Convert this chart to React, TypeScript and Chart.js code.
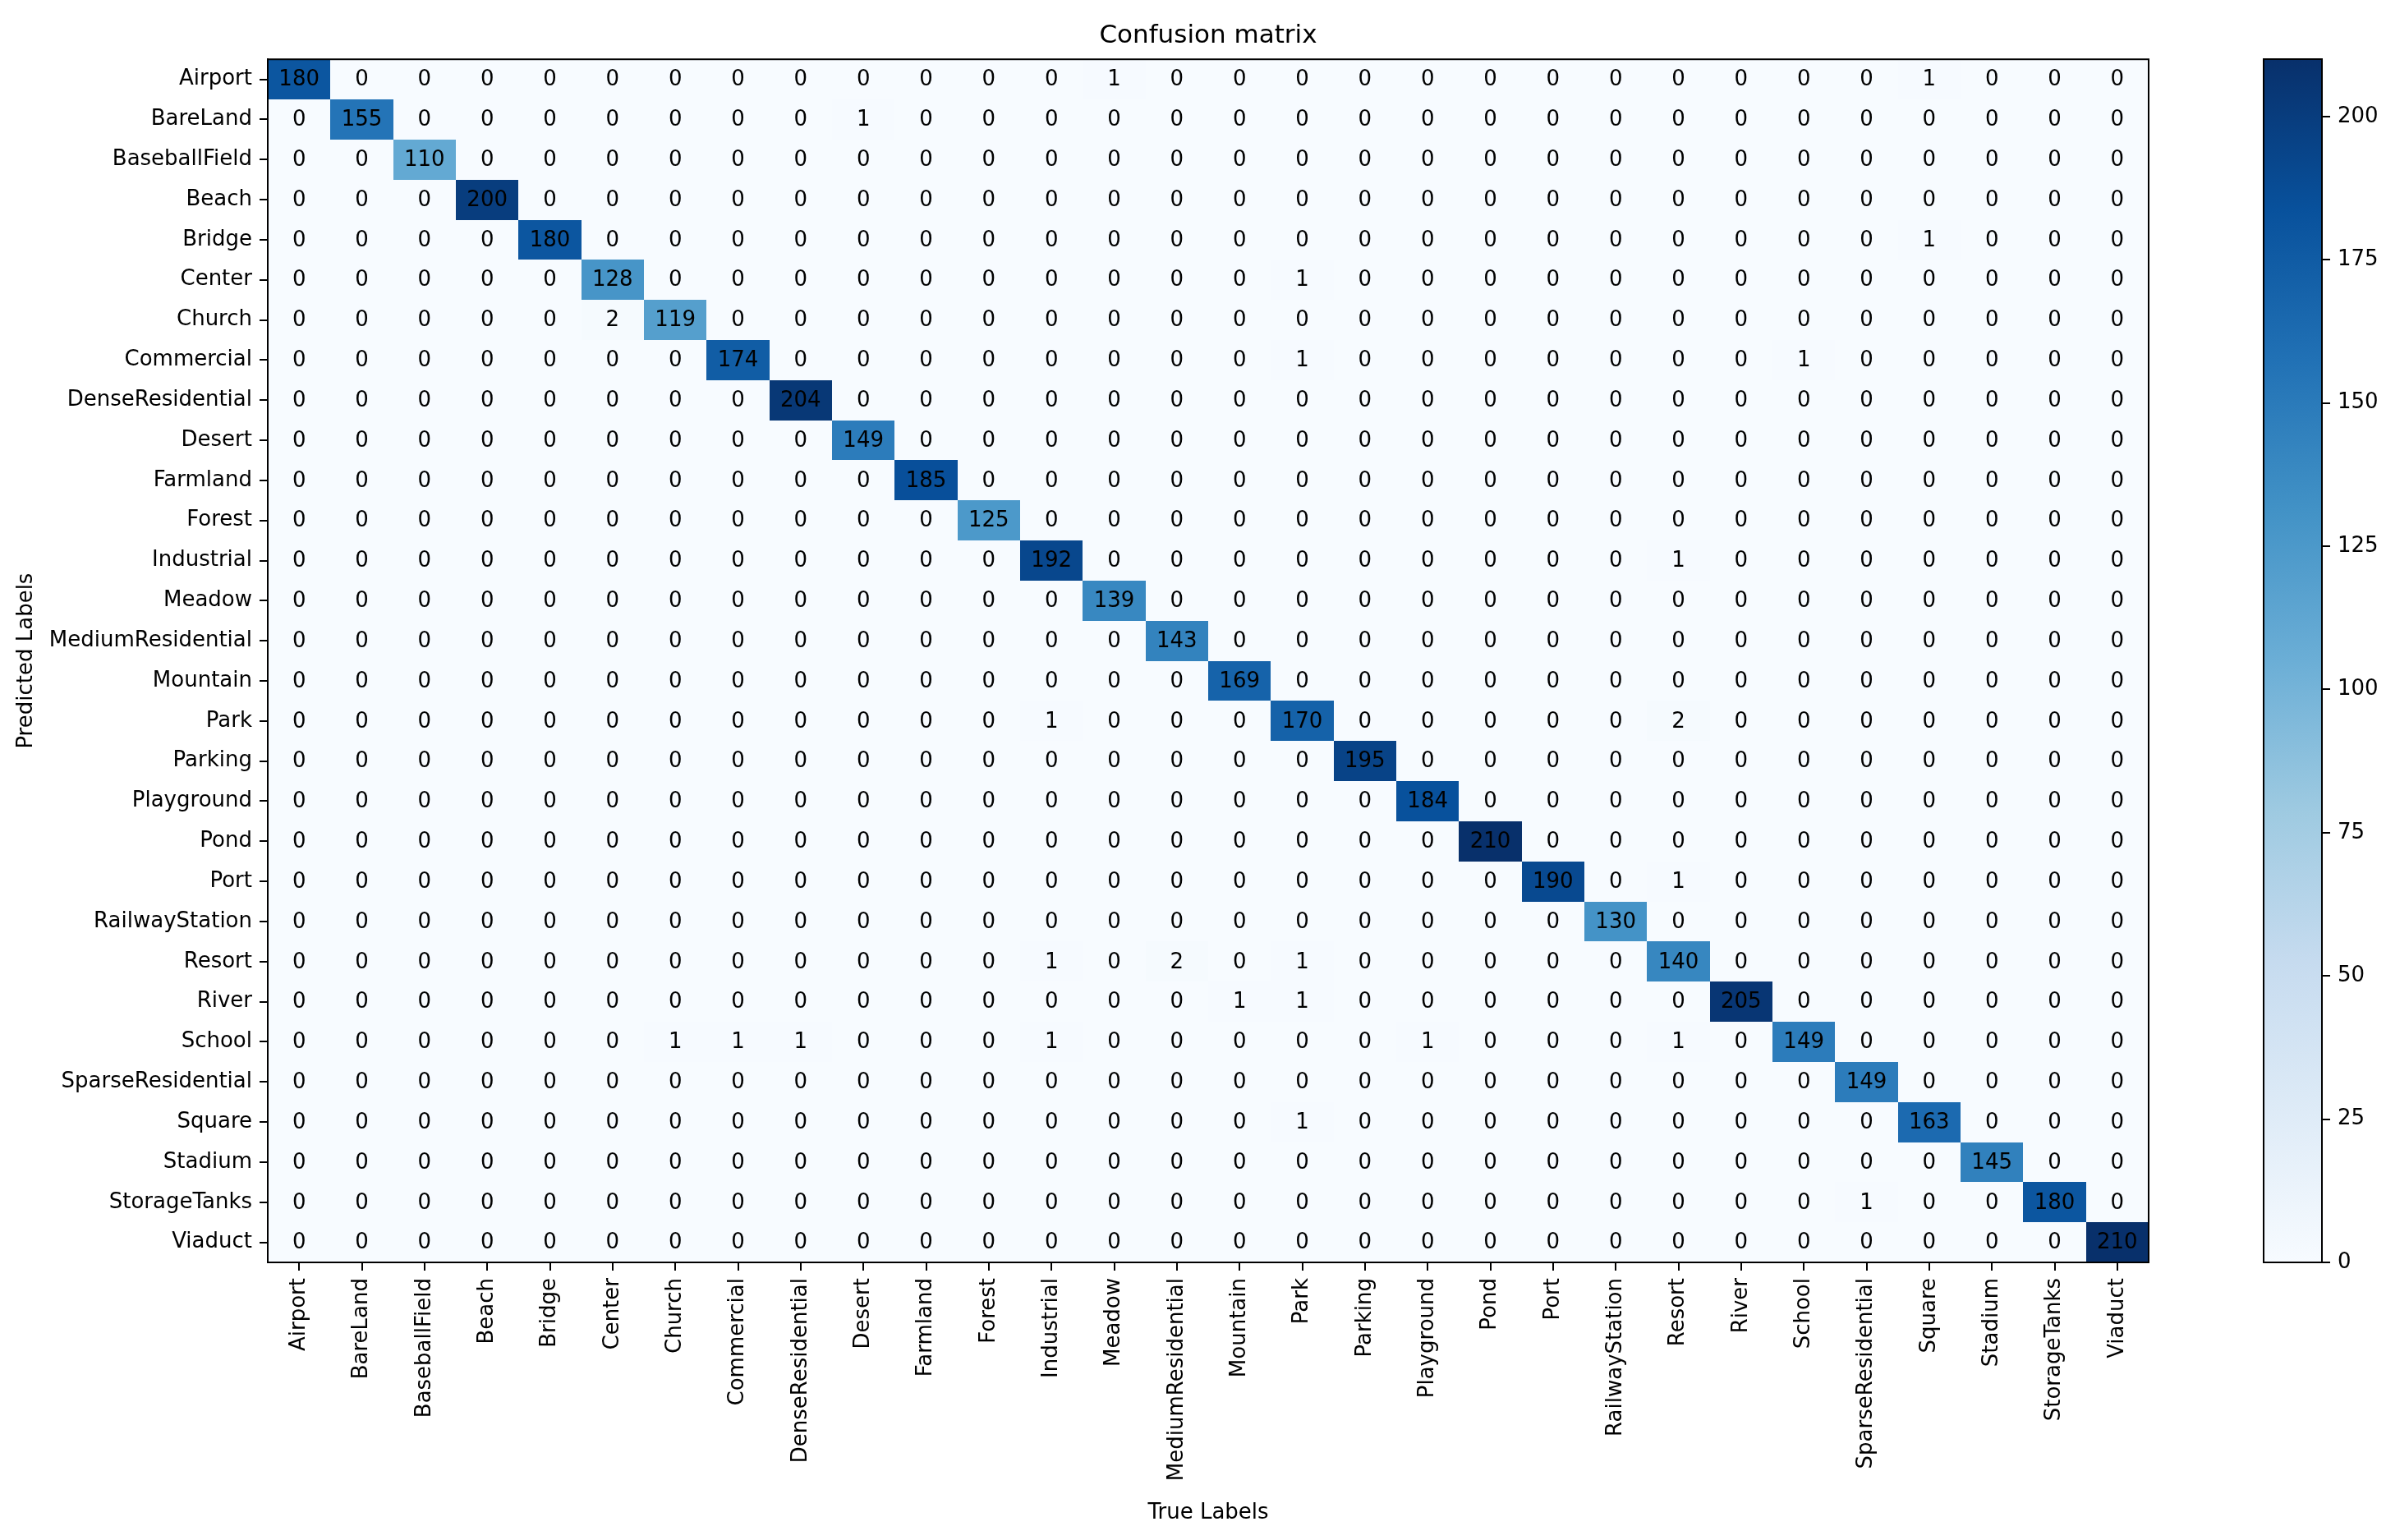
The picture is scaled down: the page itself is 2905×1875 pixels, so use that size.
import React, { useEffect, useRef } from "react";
import { Chart, registerables } from "chart.js";

Chart.register(...registerables);

// ---------- data ----------
const LABELS: string[] = [
  "Airport", "BareLand", "BaseballField", "Beach", "Bridge", "Center", "Church", "Commercial",
  "DenseResidential", "Desert", "Farmland", "Forest", "Industrial", "Meadow", "MediumResidential",
  "Mountain", "Park", "Parking", "Playground", "Pond", "Port", "RailwayStation", "Resort", "River",
  "School", "SparseResidential", "Square", "Stadium", "StorageTanks", "Viaduct",
];

// rows = predicted label, columns = true label
const MATRIX: number[][] = [
  [180,0,0,0,0, 0,0,0,0,0, 0,0,0,1,0, 0,0,0,0,0, 0,0,0,0,0, 0,1,0,0,0],
  [0,155,0,0,0, 0,0,0,0,1, 0,0,0,0,0, 0,0,0,0,0, 0,0,0,0,0, 0,0,0,0,0],
  [0,0,110,0,0, 0,0,0,0,0, 0,0,0,0,0, 0,0,0,0,0, 0,0,0,0,0, 0,0,0,0,0],
  [0,0,0,200,0, 0,0,0,0,0, 0,0,0,0,0, 0,0,0,0,0, 0,0,0,0,0, 0,0,0,0,0],
  [0,0,0,0,180, 0,0,0,0,0, 0,0,0,0,0, 0,0,0,0,0, 0,0,0,0,0, 0,1,0,0,0],
  [0,0,0,0,0, 128,0,0,0,0, 0,0,0,0,0, 0,1,0,0,0, 0,0,0,0,0, 0,0,0,0,0],
  [0,0,0,0,0, 2,119,0,0,0, 0,0,0,0,0, 0,0,0,0,0, 0,0,0,0,0, 0,0,0,0,0],
  [0,0,0,0,0, 0,0,174,0,0, 0,0,0,0,0, 0,1,0,0,0, 0,0,0,0,1, 0,0,0,0,0],
  [0,0,0,0,0, 0,0,0,204,0, 0,0,0,0,0, 0,0,0,0,0, 0,0,0,0,0, 0,0,0,0,0],
  [0,0,0,0,0, 0,0,0,0,149, 0,0,0,0,0, 0,0,0,0,0, 0,0,0,0,0, 0,0,0,0,0],
  [0,0,0,0,0, 0,0,0,0,0, 185,0,0,0,0, 0,0,0,0,0, 0,0,0,0,0, 0,0,0,0,0],
  [0,0,0,0,0, 0,0,0,0,0, 0,125,0,0,0, 0,0,0,0,0, 0,0,0,0,0, 0,0,0,0,0],
  [0,0,0,0,0, 0,0,0,0,0, 0,0,192,0,0, 0,0,0,0,0, 0,0,1,0,0, 0,0,0,0,0],
  [0,0,0,0,0, 0,0,0,0,0, 0,0,0,139,0, 0,0,0,0,0, 0,0,0,0,0, 0,0,0,0,0],
  [0,0,0,0,0, 0,0,0,0,0, 0,0,0,0,143, 0,0,0,0,0, 0,0,0,0,0, 0,0,0,0,0],
  [0,0,0,0,0, 0,0,0,0,0, 0,0,0,0,0, 169,0,0,0,0, 0,0,0,0,0, 0,0,0,0,0],
  [0,0,0,0,0, 0,0,0,0,0, 0,0,1,0,0, 0,170,0,0,0, 0,0,2,0,0, 0,0,0,0,0],
  [0,0,0,0,0, 0,0,0,0,0, 0,0,0,0,0, 0,0,195,0,0, 0,0,0,0,0, 0,0,0,0,0],
  [0,0,0,0,0, 0,0,0,0,0, 0,0,0,0,0, 0,0,0,184,0, 0,0,0,0,0, 0,0,0,0,0],
  [0,0,0,0,0, 0,0,0,0,0, 0,0,0,0,0, 0,0,0,0,210, 0,0,0,0,0, 0,0,0,0,0],
  [0,0,0,0,0, 0,0,0,0,0, 0,0,0,0,0, 0,0,0,0,0, 190,0,1,0,0, 0,0,0,0,0],
  [0,0,0,0,0, 0,0,0,0,0, 0,0,0,0,0, 0,0,0,0,0, 0,130,0,0,0, 0,0,0,0,0],
  [0,0,0,0,0, 0,0,0,0,0, 0,0,1,0,2, 0,1,0,0,0, 0,0,140,0,0, 0,0,0,0,0],
  [0,0,0,0,0, 0,0,0,0,0, 0,0,0,0,0, 1,1,0,0,0, 0,0,0,205,0, 0,0,0,0,0],
  [0,0,0,0,0, 0,1,1,1,0, 0,0,1,0,0, 0,0,0,1,0, 0,0,1,0,149, 0,0,0,0,0],
  [0,0,0,0,0, 0,0,0,0,0, 0,0,0,0,0, 0,0,0,0,0, 0,0,0,0,0, 149,0,0,0,0],
  [0,0,0,0,0, 0,0,0,0,0, 0,0,0,0,0, 0,1,0,0,0, 0,0,0,0,0, 0,163,0,0,0],
  [0,0,0,0,0, 0,0,0,0,0, 0,0,0,0,0, 0,0,0,0,0, 0,0,0,0,0, 0,0,145,0,0],
  [0,0,0,0,0, 0,0,0,0,0, 0,0,0,0,0, 0,0,0,0,0, 0,0,0,0,0, 1,0,0,180,0],
  [0,0,0,0,0, 0,0,0,0,0, 0,0,0,0,0, 0,0,0,0,0, 0,0,0,0,0, 0,0,0,0,210],
];

const COLORBAR_TICKS: number[] = [0, 25, 50, 75, 100, 125, 150, 175, 200];
const V_MAX = 210;

const TITLE = "Confusion matrix";
const X_TITLE = "True Labels";
const Y_TITLE = "Predicted Labels";

// matplotlib "Blues" colormap control colours
const BLUES: string[] = [
  "#f7fbff", "#deebf7", "#c6dbef", "#9ecae1", "#6baed6",
  "#4292c6", "#2171b5", "#08519c", "#08306b",
];

// ---------- helpers ----------
const FONT = "'DejaVu Sans', sans-serif";

function hexToRgb(h: string): number[] {
  const n = parseInt(h.slice(1), 16);
  return [(n >> 16) & 255, (n >> 8) & 255, n & 255];
}

function blues(t: number): string {
  const c = Math.max(0, Math.min(1, t));
  const s = c * (BLUES.length - 1);
  const i = Math.min(Math.floor(s), BLUES.length - 2);
  const f = s - i;
  const a = hexToRgb(BLUES[i]);
  const b = hexToRgb(BLUES[i + 1]);
  const r = a.map((v, k) => Math.round(v + (b[k] - v) * f));
  return `rgb(${r[0]},${r[1]},${r[2]})`;
}

const heatmapPlugin = {
  id: "heatmapCells",
  beforeDatasetsDraw(chart: any) {
    const { ctx, chartArea, scales } = chart;
    const xs = scales.x;
    const ys = scales.y;
    const pts = chart.data.datasets[0].data as { x: number; y: number; v: number }[];
    ctx.save();
    for (const p of pts) {
      const x0 = Math.round(xs.getPixelForValue(p.x - 0.5));
      const x1 = Math.round(xs.getPixelForValue(p.x + 0.5));
      const y0 = Math.round(ys.getPixelForValue(p.y - 0.5));
      const y1 = Math.round(ys.getPixelForValue(p.y + 0.5));
      ctx.fillStyle = blues(p.v / V_MAX);
      ctx.fillRect(Math.min(x0, x1), Math.min(y0, y1), Math.abs(x1 - x0), Math.abs(y1 - y0));
    }
    ctx.fillStyle = "#000";
    ctx.font = `26px ${FONT}`;
    ctx.textAlign = "center";
    ctx.textBaseline = "middle";
    for (const p of pts) {
      ctx.fillText(String(p.v), xs.getPixelForValue(p.x), ys.getPixelForValue(p.y) + 1);
    }
    ctx.strokeStyle = "#000";
    ctx.lineWidth = 2;
    ctx.strokeRect(
      chartArea.left,
      chartArea.top,
      chartArea.right - chartArea.left,
      chartArea.bottom - chartArea.top
    );
    ctx.restore();
  },
};

const colorbarPlugin = {
  id: "colorbarFill",
  beforeDatasetsDraw(chart: any) {
    const { ctx, chartArea, scales } = chart;
    const ys = scales.y;
    const yBottom = ys.getPixelForValue(0);
    const yTop = ys.getPixelForValue(V_MAX);
    const g = ctx.createLinearGradient(0, yBottom, 0, yTop);
    BLUES.forEach((c, k) => g.addColorStop(k / (BLUES.length - 1), c));
    ctx.save();
    ctx.fillStyle = g;
    ctx.fillRect(chartArea.left, yTop, chartArea.right - chartArea.left, yBottom - yTop);
    ctx.strokeStyle = "#000";
    ctx.lineWidth = 2;
    ctx.strokeRect(chartArea.left, yTop, chartArea.right - chartArea.left, yBottom - yTop);
    ctx.restore();
  },
};

const tickFont = { family: FONT, size: 26 };

export default function App() {
  const mainRef = useRef<HTMLCanvasElement>(null);
  const barRef = useRef<HTMLCanvasElement>(null);

  useEffect(() => {
    Chart.defaults.font.family = FONT;
    const cells: { x: number; y: number; v: number }[] = [];
    MATRIX.forEach((row, i) => row.forEach((v, j) => cells.push({ x: j, y: i, v })));

    const main = new Chart(mainRef.current as HTMLCanvasElement, {
      type: "scatter",
      data: {
        datasets: [{ data: cells as any, pointRadius: 0, pointHoverRadius: 0 }],
      },
      options: {
        animation: false,
        responsive: false,
        devicePixelRatio: 1,
        events: [],
        layout: { padding: { left: 0, right: 24, top: 0, bottom: 0 } },
        plugins: {
          legend: { display: false },
          tooltip: { enabled: false },
          title: {
            display: true,
            text: TITLE,
            color: "#000",
            fullSize: false,
            font: { family: FONT, size: 31, weight: "normal" },
            padding: { top: 25, bottom: 10 },
          },
        },
        scales: {
          x: {
            type: "linear",
            position: "bottom",
            min: -0.5,
            max: LABELS.length - 0.5,
            afterBuildTicks: (s: any) => {
              s.ticks = LABELS.map((_, i) => ({ value: i }));
            },
            afterFit: (s: any) => {
              s.height = 338;
            },
            ticks: {
              autoSkip: false,
              minRotation: 90,
              maxRotation: 90,
              padding: 9,
              color: "#000",
              font: tickFont,
              callback: (v: any) => LABELS[Number(v)] ?? "",
            },
            grid: { drawOnChartArea: false, drawTicks: true, tickLength: 10, color: "#000", lineWidth: 2 },
            border: { display: true, color: "#000", width: 2 },
            title: {
              display: true,
              text: X_TITLE,
              color: "#000",
              font: tickFont,
              padding: { top: 0, bottom: 17 },
            },
          },
          y: {
            type: "linear",
            position: "left",
            reverse: true,
            min: -0.5,
            max: LABELS.length - 0.5,
            afterBuildTicks: (s: any) => {
              s.ticks = LABELS.map((_, i) => ({ value: i }));
            },
            afterFit: (s: any) => {
              s.width = 326;
            },
            ticks: {
              autoSkip: false,
              padding: 9,
              color: "#000",
              font: tickFont,
              callback: (v: any) => LABELS[Number(v)] ?? "",
            },
            grid: { drawOnChartArea: false, drawTicks: true, tickLength: 10, color: "#000", lineWidth: 2 },
            border: { display: true, color: "#000", width: 2 },
            title: {
              display: true,
              text: Y_TITLE,
              color: "#000",
              font: tickFont,
              padding: { top: 17, bottom: 0 },
            },
          },
        },
      } as any,
      plugins: [heatmapPlugin],
    });

    const bar = new Chart(barRef.current as HTMLCanvasElement, {
      type: "scatter",
      data: { datasets: [{ data: [], pointRadius: 0 }] },
      options: {
        animation: false,
        responsive: false,
        devicePixelRatio: 1,
        events: [],
        layout: { padding: { left: 56, right: 0, top: 72, bottom: 338 } },
        plugins: { legend: { display: false }, tooltip: { enabled: false } },
        scales: {
          x: { type: "linear", display: false, min: 0, max: 1 },
          y: {
            type: "linear",
            position: "right",
            min: 0,
            max: V_MAX,
            afterBuildTicks: (s: any) => {
              s.ticks = COLORBAR_TICKS.map((v) => ({ value: v }));
            },
            afterFit: (s: any) => {
              s.width = 78;
            },
            ticks: { padding: 9, color: "#000", font: tickFont },
            grid: { drawOnChartArea: false, drawTicks: true, tickLength: 10, color: "#000", lineWidth: 2 },
            border: { display: true, color: "#000", width: 2 },
          },
        },
      } as any,
      plugins: [colorbarPlugin],
    });

    return () => {
      main.destroy();
      bar.destroy();
    };
  }, []);

  return (
    <div
      style={{
        position: "absolute",
        left: 0,
        top: 0,
        width: 2905,
        height: 1875,
        background: "#fff",
        overflow: "hidden",
      }}
    >
      <canvas
        ref={mainRef}
        width={2640}
        height={1875}
        style={{ position: "absolute", left: 0, top: 0, width: 2640, height: 1875 }}
      />
      <canvas
        ref={barRef}
        width={205}
        height={1875}
        style={{ position: "absolute", left: 2700, top: 0, width: 205, height: 1875 }}
      />
    </div>
  );
}
